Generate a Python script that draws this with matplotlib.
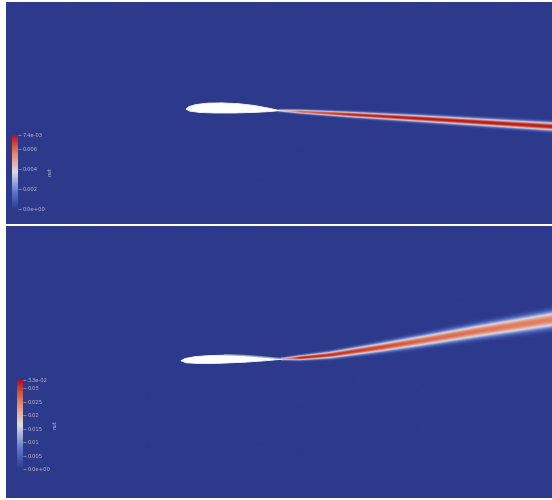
import numpy as np
import matplotlib
matplotlib.use("Agg")
import matplotlib.pyplot as plt
from matplotlib.colors import LinearSegmentedColormap, Normalize
from matplotlib.cm import ScalarMappable

# nut field, two runs (coordinates read in image pixels)
# top run
top_wake_x = [279, 300, 350, 420, 552]
top_wake_y = [110.5, 111.6, 114.5, 118.5, 126.5]
top_wake_nut = [0.0035, 0.0060, 0.0071, 0.0073, 0.0072]
top_wake_sigma = [1.3, 1.9, 2.6, 3.2, 4.0]
top_upper_x = [186, 189, 196, 208, 222, 238, 254, 268, 280]
top_upper_y = [109.2, 106.6, 104.5, 103.1, 102.9, 103.6, 105.4, 108.0, 110.6]
top_lower_x = [186, 190, 200, 215, 235, 255, 270, 280]
top_lower_y = [109.2, 111.2, 112.5, 113.0, 113.0, 112.4, 111.6, 110.6]
top_ticks = [0.0, 0.002, 0.004, 0.006, 0.0074]
top_labels = ["0.0e+00", "0.002", "0.004", "0.006", "7.4e-03"]
top_max = 0.0074

# bottom run
bot_wake_x = [281, 300, 330, 380, 420, 476, 552]
bot_wake_y = [359.0, 357.8, 355.0, 347.5, 341.0, 331.5, 319.5]
bot_wake_nut = [0.020, 0.032, 0.031, 0.029, 0.027, 0.026, 0.025]
bot_wake_sigma = [1.2, 2.3, 3.2, 4.4, 5.3, 6.4, 7.8]
bot_upper_x = [181, 185, 195, 210, 225, 245, 262, 276, 283]
bot_upper_y = [360.8, 358.5, 356.6, 355.5, 355.2, 356.0, 357.4, 358.7, 359.2]
bot_lower_x = [181, 186, 200, 220, 245, 265, 283]
bot_lower_y = [360.8, 362.8, 363.6, 363.3, 362.2, 360.8, 359.2]
bot_ticks = [0.0, 0.005, 0.01, 0.015, 0.02, 0.025, 0.03, 0.033]
bot_labels = ["0.0e+00", "0.005", "0.01", "0.015", "0.02", "0.025", "0.03", "3.3e-02"]
bot_max = 0.033

cmap = LinearSegmentedColormap.from_list(
    "cool_warm_dark",
    [(0.0, "#2d3a8c"), (0.22, "#5b74cc"), (0.5, "#dcdce2"),
     (0.74, "#e5886a"), (0.88, "#cc4a3c"), (1.0, "#b0101e")])

W, H = 552, 500
fig = plt.figure(figsize=(W / 100, H / 100), dpi=100)
fig.patch.set_facecolor("white")


def field(x0, x1, y0, y1, wx, wy, wv, ws):
    xs = np.arange(x0, x1 + 0.5, 0.5)
    ys = np.arange(y0, y1 + 0.5, 0.5)
    X, Y = np.meshgrid(xs, ys)
    yc = np.interp(xs, wx, wy)
    pk = np.interp(xs, wx, wv)
    sg = np.interp(xs, wx, ws)
    Z = pk[None, :] * np.exp(-np.abs((Y - yc[None, :]) / sg[None, :]) ** 2.4)
    Z[:, xs < wx[0]] = 0.0
    return Z


def panel(rect_px, wake, upper, lower, vmax, cb_px, ticks, labels, bl=False):
    x0, y0, x1, y1 = rect_px
    ax = fig.add_axes([x0 / W, 1 - y1 / H, (x1 - x0) / W, (y1 - y0) / H])
    Z = field(x0, x1, y0, y1, *wake)
    ax.imshow(Z, cmap=cmap, vmin=0, vmax=vmax, extent=(x0, x1, y1, y0),
              interpolation="bilinear", aspect="auto")
    if bl:
        ax.plot(upper[0][4:], np.array(upper[1][4:]) - 0.6, color="#9aa6c8",
                lw=1.0, alpha=0.8)
    fx = list(upper[0]) + list(lower[0][::-1])
    fy = list(upper[1]) + list(lower[1][::-1])
    ax.fill(fx, fy, color="white", lw=0.6, ec="#f4f4f8")
    ax.set_xlim(x0, x1)
    ax.set_ylim(y1, y0)
    ax.axis("off")

    cx0, cy0, cx1, cy1 = cb_px
    cax = fig.add_axes([cx0 / W, 1 - cy1 / H, (cx1 - cx0) / W, (cy1 - cy0) / H])
    cb = fig.colorbar(ScalarMappable(norm=Normalize(0, vmax), cmap=cmap), cax=cax)
    cb.outline.set_visible(False)
    cb.set_ticks(ticks)
    cb.set_ticklabels(labels)
    cax.tick_params(length=2, width=0.4, color="#b8bccf", labelsize=3.8,
                    labelcolor="#b8bccf", pad=1.5)
    cb.set_label("nut", fontsize=3.8, color="#b8bccf", labelpad=1)


panel((6, 2, 552, 224),
      (top_wake_x, top_wake_y, top_wake_nut, top_wake_sigma),
      (top_upper_x, top_upper_y), (top_lower_x, top_lower_y),
      top_max, (12, 135, 18, 209), top_ticks, top_labels)

panel((6, 226, 552, 498),
      (bot_wake_x, bot_wake_y, bot_wake_nut, bot_wake_sigma),
      (bot_upper_x, bot_upper_y), (bot_lower_x, bot_lower_y),
      bot_max, (17, 380, 23, 469), bot_ticks, bot_labels, bl=True)

fig.savefig("out.png", dpi=100, facecolor="white")
